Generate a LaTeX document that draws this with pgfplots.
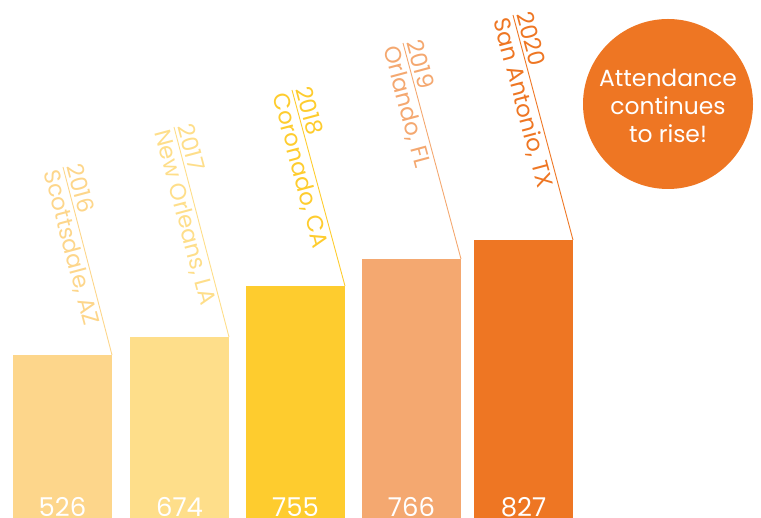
\documentclass[border=0pt]{standalone}
\usepackage{pgfplots}
\pgfplotsset{compat=1.18}
\usepackage{fontspec}
\setmainfont{Poppins}

\definecolor{c16}{HTML}{FDD68B}
\definecolor{c17}{HTML}{FEDE8A}
\definecolor{c18}{HTML}{FECC2E}
\definecolor{c19}{HTML}{F4A870}
\definecolor{c20}{HTML}{EE7623}

% corner x, corner y, top x, top y, colour, year, city
\newcommand{\lab}[7]{%
  \draw[#5, line width=0.9pt] (axis cs:#1,#2) -- (axis cs:#3,#4);
  \node[#5, rotate=-75, anchor=south west, inner xsep=0pt, inner ysep=3pt,
        font=\fontsize{23}{26}\selectfont] at (axis cs:#3,#4) {#6};
  \node[#5, rotate=-75, anchor=north west, inner xsep=0pt, inner ysep=3pt,
        font=\fontsize{23}{26}\selectfont] at (axis cs:#3,#4) {#7};
}

\begin{document}
\begin{tikzpicture}
\begin{axis}[
  width=761bp, height=518bp, scale only axis,
  xmin=0, xmax=761, ymin=0, ymax=518,
  hide axis, clip=false,
  ybar, bar width=99, bar shift=0pt,
]
\path (rel axis cs:0,0) rectangle (rel axis cs:1,1);
% bar heights as drawn (the chart is not to scale)
\addplot[fill=c16, draw=none] coordinates {(62.5,163)};
\addplot[fill=c17, draw=none] coordinates {(179.5,181)};
\addplot[fill=c18, draw=none] coordinates {(295.5,232)};
\addplot[fill=c19, draw=none] coordinates {(411.5,259)};
\addplot[fill=c20, draw=none] coordinates {(523.5,278)};

\lab{112}{163}{63}{351}{c16}{2016}{Scottsdale, AZ}
\lab{229}{181}{174}{391}{c17}{2017}{New Orleans, LA}
\lab{345}{232}{292}{428}{c18}{2018}{Coronado, CA}
\lab{461}{259}{403}{475}{c19}{2019}{Orlando, FL}
\lab{573}{278}{513}{503}{c20}{2020}{San Antonio, TX}

\foreach \x/\v in {62.5/526, 179.5/674, 295.5/755, 411.5/766, 523.5/827}{
  \edef\tmp{\noexpand\node[white, anchor=base, inner sep=0pt,
    font=\noexpand\fontsize{26}{30}\noexpand\selectfont] at (axis cs:\x,2) {\v};}
  \tmp
}

\fill[c20] (axis cs:668,414) circle[radius=85bp];
\node[white, align=center, font=\fontsize{23.5}{28}\selectfont]
  at (axis cs:668,412) {Attendance\\continues\\to rise!};
\end{axis}
\end{tikzpicture}
\end{document}
